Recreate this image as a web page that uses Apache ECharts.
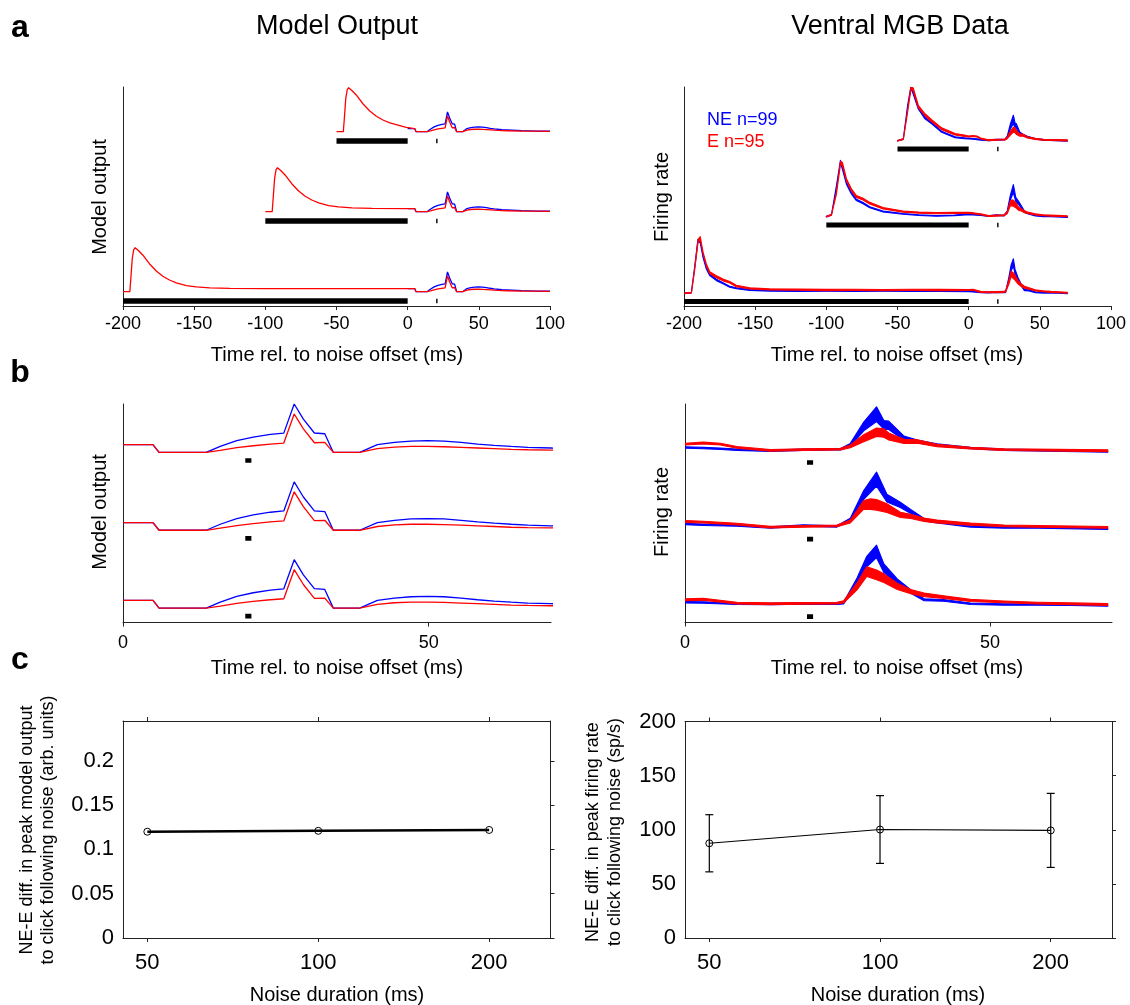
<!DOCTYPE html>
<html><head><meta charset="utf-8">
<script src="https://cdn.jsdelivr.net/npm/echarts@6/dist/echarts.min.js"></script>
<style>html,body{margin:0;padding:0;background:#fff}#c{width:1130px;height:1005px}</style>
</head><body><div id="c"></div>
<script>
// ---------------- DATA ----------------
const noiseDurations = [200, 100, 50];   // ms (bottom, middle, top trace)
const clickStart = 20, clickEnd = 21;    // ms after noise offset

// Model output (arbitrary units); onset responses (NE and E identical, red drawn)
const modelOnset200 = [[-200,0],[-195.2,0],[-194.5,0.3],[-193.5,0.75],[-192.5,0.95],[-191.5,1.0],[-190.5,0.99],[-189,0.93],[-186,0.83],[-181.3,0.63],[-176.6,0.47],[-172,0.35],[-167,0.26],[-162.5,0.2],[-155.5,0.14],[-148.5,0.11],[-139,0.085],[-125,0.075],[-100,0.07],[-50,0.07],[-1,0.07]];
const modelOnset100 = [[-100,0],[-95.2,0],[-94.5,0.3],[-93.5,0.75],[-92.5,0.95],[-91.5,1.0],[-90.5,0.99],[-89,0.93],[-86,0.83],[-81.3,0.63],[-76.6,0.47],[-72,0.35],[-67,0.26],[-62.5,0.2],[-55.5,0.14],[-48.5,0.11],[-39,0.085],[-25,0.075],[-1,0.07]];
const modelOnset50 = [[-50,0],[-45.2,0],[-44.5,0.3],[-43.5,0.75],[-42.5,0.95],[-41.5,1.0],[-40.5,0.99],[-39,0.93],[-36,0.83],[-31.3,0.63],[-26.6,0.47],[-22,0.35],[-17,0.26],[-12.5,0.2],[-5.5,0.14],[-1,0.1]];
// Model output after noise offset
const modelNEPost = [[0,0.072],[4.9,0.072],[5.9,0],[13.6,0],[15.9,0.056],[18.6,0.109],[21.3,0.143],[24.1,0.168],[26.3,0.18],[28.0,0.451],[29.5,0.31],[31.3,0.181],[33.0,0.174],[34.4,0],[38.7,0],[41.6,0.072],[44.4,0.093],[47.1,0.106],[49.8,0.109],[52.5,0.106],[55.3,0.093],[58.0,0.078],[60.7,0.066],[63.5,0.056],[66.2,0.047],[70.0,0.041],[80,0.025],[90,0.015],[100,0.01]];
const modelEPost = [[0,0.072],[4.9,0.072],[5.9,0],[13.6,0],[15.9,0.019],[18.6,0.044],[21.3,0.062],[24.1,0.078],[26.3,0.087],[28.0,0.358],[29.5,0.22],[31.3,0.09],[33.0,0.093],[34.4,0],[38.7,0],[41.6,0.035],[44.4,0.05],[47.1,0.056],[49.8,0.056],[52.5,0.053],[55.3,0.047],[58.0,0.041],[60.7,0.035],[63.5,0.028],[66.2,0.025],[70.0,0.022],[80,0.015],[90,0.012],[100,0.008]];

// Ventral MGB data: [time ms, mean rate (a.u.), sem]
const dataNE200Pre = [[-200,0,0.3],[-194.8,0.6,0.3],[-192.5,26,0.8],[-190.2,53,1.2],[-188.6,51.6,1.2],[-186.6,36.6,1],[-184.3,25,0.8],[-181.9,18.3,0.7],[-177.2,13.3,0.7],[-172.6,10,0.6],[-167.9,6.6,0.5],[-163.2,5,0.5],[-153.8,3.3,0.4],[-139.8,2.6,0.4],[-120,2.3,0.4],[-100,2.5,0.4],[-80,2.2,0.4],[-60,2.4,0.4],[-40,2.2,0.4],[-20,2.3,0.4]];
const dataE200Pre = [[-200,0,0.3],[-194.8,0.6,0.3],[-192.5,24,1],[-190.2,52,1.5],[-188.6,55,1.5],[-186.6,40,1.2],[-184.3,28.3,1],[-181.9,20.6,1],[-177.2,16.6,1],[-172.6,13.3,0.9],[-167.9,11,0.8],[-163.2,7.3,0.7],[-153.8,5,0.6],[-139.8,4,0.6],[-120,3.6,0.6],[-100,3.3,0.6],[-80,3.5,0.6],[-60,3.2,0.6],[-40,3.4,0.6],[-20,3.3,0.6]];
const dataNE100Pre = [[-100,0,0.3],[-96.4,1.7,0.3],[-92.9,30,1],[-90.1,55,1.2],[-88.7,48.4,1.2],[-85.9,33.4,1],[-82.4,23.4,0.8],[-78.9,16.7,0.7],[-74.2,13.4,0.6],[-69.5,9.4,0.5],[-60.2,5,0.5],[-46.1,2.7,0.4],[-35,1.5,0.4],[-22.7,0.7,0.4],[-10,1.2,0.4]];
const dataE100Pre = [[-100,0,0.3],[-96.4,1.7,0.3],[-92.9,23.4,1],[-90.1,53.4,1.5],[-88.7,52.7,1.5],[-85.9,36.7,1.2],[-82.4,26.7,1],[-78.9,20,1],[-74.2,17.4,0.9],[-69.5,13.4,0.8],[-60.2,8.4,0.7],[-46.1,5,0.6],[-35,4,0.6],[-22.7,3.4,0.6],[-10,3.6,0.6]];
const dataNE50Pre = [[-50,0,0.3],[-45.9,1.7,0.3],[-42.9,34.3,1],[-40.5,53.7,1.2],[-38.9,47.7,1.2],[-35.4,32.7,1],[-30.7,22.7,0.8],[-26,17.7,0.7],[-19,9,0.6],[-9.6,3.5,0.5],[-3,2.5,0.4]];
const dataE50Pre = [[-50,0,0.3],[-45.9,1.7,0.3],[-42.9,29.3,1],[-40.5,53.7,1.5],[-38.9,51,1.5],[-35.4,34.3,1.2],[-30.7,26,1],[-26,20,1],[-19,12,0.9],[-9.6,6.5,0.8],[-3,5,0.7]];
const dataNE200Post = [[0,1.9,0.4],[3,1.7,0.4],[8.5,1.0,0.4],[14,0.8,0.4],[19.4,1.2,0.4],[24.9,1.0,0.4],[26,1.4,0.5],[28.2,13.7,2],[29.8,25.1,3],[31.4,30.9,3.6],[32.6,21.3,2.5],[34.8,13.7,1.5],[37,8,1],[39.2,3.3,0.6],[42.4,2.9,0.5],[46.8,1.0,0.4],[52.3,0.6,0.4],[57.8,0.6,0.4],[63.3,0.4,0.4],[69.3,0,0.4]];
const dataE200Post = [[0,3.3,0.5],[3,3.6,0.5],[8.5,1.4,0.5],[14,1.0,0.5],[19.4,1.2,0.5],[24.9,1.4,0.5],[26,2.1,0.6],[28.2,10.9,2],[29.8,19.4,2.8],[31.4,17.5,2.8],[32.6,15.6,2.5],[34.8,10.9,1.8],[37,8,1.2],[39.2,6.1,1],[42.4,4.8,0.8],[46.8,2.9,0.6],[52.3,2.1,0.5],[57.8,1.4,0.5],[63.3,1.0,0.5],[69.3,0.6,0.5]];
const dataNE100Post = [[0,2.3,0.4],[3,1.9,0.4],[8.5,1.5,0.4],[14,0.4,0.4],[19.4,1.5,0.4],[24.9,1.0,0.4],[27.1,4.8,0.8],[29.3,19,2.5],[31.4,28,4],[33.1,17.1,2.2],[35.3,13.3,1.5],[37,9.5,1.2],[39.2,4.8,0.7],[41.3,3.4,0.5],[46.8,1.0,0.4],[52.3,0.4,0.4],[57.8,0.4,0.4],[69.3,-0.4,0.4]];
const dataE100Post = [[0,3.8,0.5],[3,3.4,0.5],[8.5,2.3,0.5],[14,0.6,0.5],[19.4,1.0,0.5],[24.9,1.3,0.5],[27.1,3.8,0.8],[29.3,13.3,2.5],[30.4,13.7,3],[31.4,13.3,3],[33.1,11.4,2.5],[35.3,7.6,1.5],[37,6.7,1.2],[39.2,4.8,1],[41.3,3.8,0.8],[46.8,2.3,0.6],[52.3,1.3,0.5],[57.8,1.0,0.5],[69.3,0.4,0.5]];
const dataNE50Post = [[0,2.3,0.4],[3,1.9,0.4],[5.8,1.5,0.4],[8.5,1.0,0.4],[14,0.4,0.4],[19.4,1.0,0.4],[25.5,1.3,0.4],[27.1,3.8,0.8],[29.3,14.3,2.5],[31.4,21.3,4.2],[32.6,15.2,2.5],[33.4,14.9,2.4],[35.9,7.6,1.2],[38.1,5.7,0.8],[41.3,3.8,0.6],[46.8,1.9,0.4],[52.3,1.0,0.4],[69.3,0,0.4]];
const dataE50Post = [[0,4.2,0.5],[3,4.8,0.5],[5.8,4.2,0.5],[8.5,2.3,0.5],[14,0.6,0.5],[19.4,1.0,0.5],[25.5,1.3,0.5],[27.1,2.9,0.8],[29.3,7.6,2],[31.4,11,2.4],[32.6,10.5,2.4],[33.4,8.6,2],[35.9,5.7,1.2],[38.1,5.7,1],[41.3,3.4,0.7],[46.8,1.9,0.5],[52.3,1.0,0.5],[69.3,0.4,0.5]];

// Panel c
const cDurations = [50, 100, 200];
const cModelDiff = [0.120, 0.121, 0.122];
const cDataDiff = [87.5, 100.2, 99.4];
const cDataErr = [26.4, 31.3, 34.2];
const aTicks = [-200, -150, -100, -50, 0, 50, 100];
const bTicks = [0, 50];
const cModelTicks = [0, 0.05, 0.1, 0.15, 0.2];
const cDataTicks = [0, 50, 100, 150, 200];

// ---------------- LAYOUT ----------------
const FONT = '"Liberation Sans", Arial, Helvetica, sans-serif';
const AX = '#222';
const BLUE = '#0000ff', RED = '#ff0000';
const aLeftOff = [0, 1.818, 3.636], aLeftBar = -0.21;
const aRightOff = [0, 76.6, 152.3], aRightBar = -8.3;
const bLeftOff = [0, 0.725, 1.45], bLeftClick = -0.075;
const bRightOff = [0, 44.2, 88], bRightClick = -6.3;

const chart = echarts.init(document.getElementById('c'), null, {renderer: 'canvas'});

const grids = [
  {left: 123, top: 87, width: 427, height: 219},
  {left: 684, top: 87, width: 427, height: 219},
  {left: 123, top: 404, width: 428, height: 218.5},
  {left: 685, top: 404, width: 427, height: 218.5},
  {left: 123, top: 721, width: 427.5, height: 217},
  {left: 685, top: 721.5, width: 427, height: 216.5}
];

function traceX(gi, min, max, ticks, margin) {
  return {gridIndex: gi, type: 'value', min, max,
    axisLine: {show: true, onZero: false, lineStyle: {color: AX, width: 1}},
    axisTick: {show: true, inside: false, length: 4, customValues: ticks, lineStyle: {color: AX}},
    axisLabel: {show: true, customValues: ticks, fontSize: 18, margin, color: '#000', fontFamily: FONT},
    splitLine: {show: false}};
}
function traceY(gi, min, max) {
  return {gridIndex: gi, type: 'value', min, max,
    axisLine: {show: true, onZero: false, lineStyle: {color: AX, width: 1}},
    axisTick: {show: false}, axisLabel: {show: false}, splitLine: {show: false}};
}
function cX(gi, pos, showLabel) {
  return {gridIndex: gi, type: 'log', logBase: 2, min: 45.3, max: 256.5, position: pos,
    axisLine: {show: true, onZero: false, lineStyle: {color: AX, width: 1}},
    axisTick: {show: true, inside: false, length: 4, customValues: cDurations, lineStyle: {color: AX}},
    axisLabel: {show: showLabel, customValues: cDurations, fontSize: 22, margin: 14, color: '#000', fontFamily: FONT,
      formatter: v => String(Math.round(v))},
    splitLine: {show: false}, minorTick: {show: false}};
}
function cY(gi, min, max, ticks, pos, showLabel) {
  return {gridIndex: gi, type: 'value', min, max, position: pos,
    axisLine: {show: true, onZero: false, lineStyle: {color: AX, width: 1}},
    axisTick: {show: !showLabel, inside: false, length: 4, customValues: ticks, lineStyle: {color: AX}},
    axisLabel: {show: showLabel, customValues: ticks, fontSize: 22, margin: 9, color: '#000', fontFamily: FONT},
    splitLine: {show: false}};
}

const xAxis = [
  traceX(0, -200, 100, aTicks, 9),
  traceX(1, -200, 100, aTicks, 9),
  traceX(2, 0, 70, bTicks, 12),
  traceX(3, 0, 70, bTicks, 12),
  cX(4, 'bottom', true), cX(4, 'top', false),
  cX(5, 'bottom', true), cX(5, 'top', false)
];
const yAxis = [
  traceY(0, -0.325, 4.652),
  traceY(1, -12.7, 206),
  traceY(2, -0.134, 1.901),
  traceY(3, -9.7, 115.1),
  cY(4, 0, 0.245, cModelTicks, 'left', true), cY(4, 0, 0.245, cModelTicks, 'right', false),
  cY(5, 0, 200, cDataTicks, 'left', true), cY(5, 0, 200, cDataTicks, 'right', false)
];

const series = [];
function line(ai, data, color, width, z) {
  series.push({type: 'line', xAxisIndex: ai, yAxisIndex: ai, data, symbol: 'none', showSymbol: false,
    lineStyle: {color, width, cap: 'butt'}, animation: false, silent: true, z: z || 2, clip: true});
}
function band(ai, arr, off, color, z) {
  series.push({type: 'custom', xAxisIndex: ai, yAxisIndex: ai, data: [[arr[0][0], off + arr[0][1]]],
    encode: {x: 0, y: 1}, clip: true, animation: false, silent: true, z: z || 2,
    renderItem: function (params, api) {
      const up = arr.map(d => api.coord([d[0], off + d[1] + d[2]]));
      const lo = arr.slice().reverse().map(d => api.coord([d[0], off + d[1] - d[2]]));
      return {type: 'polygon', shape: {points: up.concat(lo)},
        style: {fill: color, stroke: color, lineWidth: 1.1, lineJoin: 'round'}};
    }});
}
const shift = (arr, off) => arr.map(d => [d[0], off + d[1]]);

// Panel a-left and b-left: model
const modelOnsets = [modelOnset200, modelOnset100, modelOnset50];
noiseDurations.forEach((dur, i) => {
  const off = aLeftOff[i];
  line(0, shift(modelNEPost, off), BLUE, 1.3, 2);
  line(0, shift(modelOnsets[i].concat(modelEPost), off), RED, 1.3, 3);
  line(0, [[-dur, off + aLeftBar], [0, off + aLeftBar]], '#000', 5.5, 4);
  line(0, [[clickStart, off + aLeftBar], [clickEnd, off + aLeftBar]], '#000', 4.5, 4);
  const ob = bLeftOff[i];
  line(2, shift(modelNEPost, ob), BLUE, 1.3, 2);
  line(2, shift(modelEPost, ob), RED, 1.3, 3);
  line(2, [[clickStart, ob + bLeftClick], [clickEnd, ob + bLeftClick]], '#000', 4.7, 4);
});

// Panel a-right and b-right: data
const dataNEPre = [dataNE200Pre, dataNE100Pre, dataNE50Pre];
const dataEPre = [dataE200Pre, dataE100Pre, dataE50Pre];
const dataNEPost = [dataNE200Post, dataNE100Post, dataNE50Post];
const dataEPost = [dataE200Post, dataE100Post, dataE50Post];
noiseDurations.forEach((dur, i) => {
  const off = aRightOff[i];
  band(1, dataNEPre[i].concat(dataNEPost[i]), off, BLUE, 2);
  band(1, dataEPre[i].concat(dataEPost[i]), off, RED, 3);
  line(1, [[-dur, off + aRightBar], [0, off + aRightBar]], '#000', 5, 4);
  line(1, [[clickStart, off + aRightBar], [clickEnd, off + aRightBar]], '#000', 4.5, 4);
  const ob = bRightOff[i];
  band(3, dataNEPost[i], ob, BLUE, 2);
  band(3, dataEPost[i], ob, RED, 3);
  line(3, [[clickStart, ob + bRightClick], [clickEnd, ob + bRightClick]], '#000', 4.7, 4);
});

// Panel c
series.push({type: 'line', xAxisIndex: 4, yAxisIndex: 4, data: cDurations.map((d, i) => [d, cModelDiff[i]]),
  symbol: 'circle', symbolSize: 7, showSymbol: true,
  itemStyle: {color: 'rgba(0,0,0,0)', borderColor: '#000', borderWidth: 1},
  lineStyle: {color: '#000', width: 2.5}, animation: false, silent: true, z: 5});
series.push({type: 'custom', xAxisIndex: 6, yAxisIndex: 6,
  data: cDurations.map((d, i) => [d, cDataDiff[i], cDataErr[i]]), encode: {x: 0, y: 1},
  animation: false, silent: true, z: 4,
  renderItem: function (params, api) {
    const x = api.value(0), y = api.value(1), e = api.value(2);
    const t = api.coord([x, y + e]), b = api.coord([x, y - e]);
    const w = 4, st = {stroke: '#000', lineWidth: 1.2};
    return {type: 'group', children: [
      {type: 'line', shape: {x1: t[0], y1: t[1], x2: b[0], y2: b[1]}, style: st},
      {type: 'line', shape: {x1: t[0] - w, y1: t[1], x2: t[0] + w, y2: t[1]}, style: st},
      {type: 'line', shape: {x1: b[0] - w, y1: b[1], x2: b[0] + w, y2: b[1]}, style: st}
    ]};
  }});
series.push({type: 'line', xAxisIndex: 6, yAxisIndex: 6, data: cDurations.map((d, i) => [d, cDataDiff[i]]),
  symbol: 'circle', symbolSize: 7, showSymbol: true,
  itemStyle: {color: 'rgba(0,0,0,0)', borderColor: '#000', borderWidth: 1},
  lineStyle: {color: '#000', width: 1.1}, animation: false, silent: true, z: 5});

function txt(x, y, text, size, o) {
  o = o || {};
  return {type: 'text', x, y, rotation: o.rot || 0, silent: true,
    style: {text, fontSize: size, fontFamily: FONT, fontWeight: o.bold ? 'bold' : 'normal',
      fill: o.color || '#000', align: o.align || 'center', verticalAlign: 'middle', lineHeight: o.lh || size * 1.2}};
}
const R = Math.PI / 2;
const graphic = [
  txt(20, 28, 'a', 32, {bold: true}),
  txt(20, 373, 'b', 32, {bold: true}),
  txt(20, 660, 'c', 32, {bold: true}),
  txt(337, 27, 'Model Output', 27),
  txt(900, 27, 'Ventral MGB Data', 27),
  txt(100, 197, 'Model output', 20, {rot: R}),
  txt(662, 197, 'Firing rate', 20, {rot: R}),
  txt(100, 512, 'Model output', 20, {rot: R}),
  txt(662, 512, 'Firing rate', 20, {rot: R}),
  txt(337, 355, 'Time rel. to noise offset (ms)', 20),
  txt(897, 355, 'Time rel. to noise offset (ms)', 20),
  txt(337, 668, 'Time rel. to noise offset (ms)', 20),
  txt(897, 668, 'Time rel. to noise offset (ms)', 20),
  txt(337, 995, 'Noise duration (ms)', 20),
  txt(898, 995, 'Noise duration (ms)', 20),
  txt(38, 830, 'NE-E diff. in peak model output\nto click following noise (arb. units)', 18, {rot: R, lh: 21}),
  txt(604, 832, 'NE-E diff. in peak firing rate\nto click following noise (sp/s)', 18, {rot: R, lh: 21.5}),
  txt(707, 120, 'NE n=99', 18, {align: 'left', color: BLUE}),
  txt(707, 142, 'E n=95', 18, {align: 'left', color: RED})
];

chart.setOption({animation: false, backgroundColor: '#fff', grid: grids, xAxis, yAxis, series, graphic});
</script></body></html>
